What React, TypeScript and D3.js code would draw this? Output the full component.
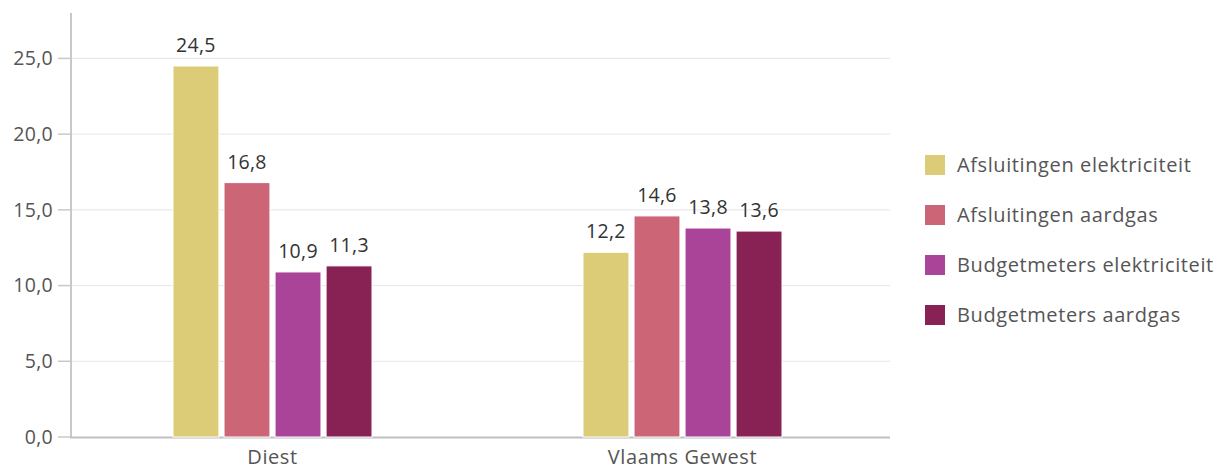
import React from "react";
import * as d3 from "d3";

const categories = ["Diest", "Vlaams Gewest"];
const seriesNames = [
  "Afsluitingen elektriciteit",
  "Afsluitingen aardgas",
  "Budgetmeters elektriciteit",
  "Budgetmeters aardgas",
];
const diestValues = [24.5, 16.8, 10.9, 11.3];
const vlaamsValues = [12.2, 14.6, 13.8, 13.6];
const colors = ["#DDCC77", "#CC6677", "#AA4499", "#882255"];
const yTicks = [0, 5, 10, 15, 20, 25];

const values = [diestValues, vlaamsValues];
const fmt = (v: number) => v.toFixed(1).replace(".", ",");
const FONT = "'Open Sans', 'Noto Sans', sans-serif";

export default function App() {
  const W = 1220, H = 472;
  const axisX = 71, plotRight = 890, y0 = 437, yTop = 13;
  const y = d3.scaleLinear().domain([0, 28]).range([y0, yTop]);
  const x = d3.scaleBand().domain(categories).range([67.5, 887.5]).padding(0);
  const groupW = 199;
  const inner = d3.scaleBand().domain(seriesNames).range([0, groupW]).paddingInner(0.1);

  return (
    <svg width={W} height={H} style={{ position: "absolute", left: 0, top: 0, background: "#fff" }}>
      {yTicks.map((t) => (
        <g key={t}>
          {t > 0 && (
            <line x1={axisX} x2={plotRight} y1={y(t)} y2={y(t)} stroke="#e6e6e6" strokeWidth={1} />
          )}
          <line x1={58} x2={axisX} y1={y(t)} y2={y(t)} stroke="#c8c8c8" strokeWidth={1.5} />
          <text x={53} y={y(t)} dy="0.35em" textAnchor="end" fontFamily={FONT} fontSize={19.5} letterSpacing={0.3} fill="#555">
            {fmt(t)}
          </text>
        </g>
      ))}
      <line x1={axisX} x2={axisX} y1={yTop} y2={y0 + 1} stroke="#c8c8c8" strokeWidth={2} />
      <line x1={axisX - 1} x2={plotRight} y1={y0 + 0.5} y2={y0 + 0.5} stroke="#c0c0c0" strokeWidth={2} />

      {categories.map((c, ci) => {
        const cx = (x(c) ?? 0) + x.bandwidth() / 2;
        const gx = cx - groupW / 2;
        return (
          <g key={c}>
            {values[ci].map((v, si) => {
              const bx = gx + (inner(seriesNames[si]) ?? 0);
              const bw = inner.bandwidth();
              return (
                <g key={si}>
                  <rect x={bx} y={y(v)} width={bw} height={y0 - y(v)} fill={colors[si]} stroke="#fff" strokeWidth={1} />
                  <text x={bx + bw / 2} y={y(v) - 14} textAnchor="middle" fontFamily={FONT} fontSize={19.5} letterSpacing={0.3} fill="#333">
                    {fmt(v)}
                  </text>
                </g>
              );
            })}
            <text x={cx} y={464} textAnchor="middle" fontFamily={FONT} fontSize={20} letterSpacing={0.6} fill="#555">
              {c}
            </text>
          </g>
        );
      })}

      {seriesNames.map((s, i) => {
        const ly = 165 + i * 50;
        return (
          <g key={s}>
            <rect x={925} y={ly - 10} width={20} height={20} fill={colors[i]} />
            <text x={957} y={ly} dy="0.35em" fontFamily={FONT} fontSize={20} letterSpacing={0.6} fill="#555">
              {s}
            </text>
          </g>
        );
      })}
    </svg>
  );
}
